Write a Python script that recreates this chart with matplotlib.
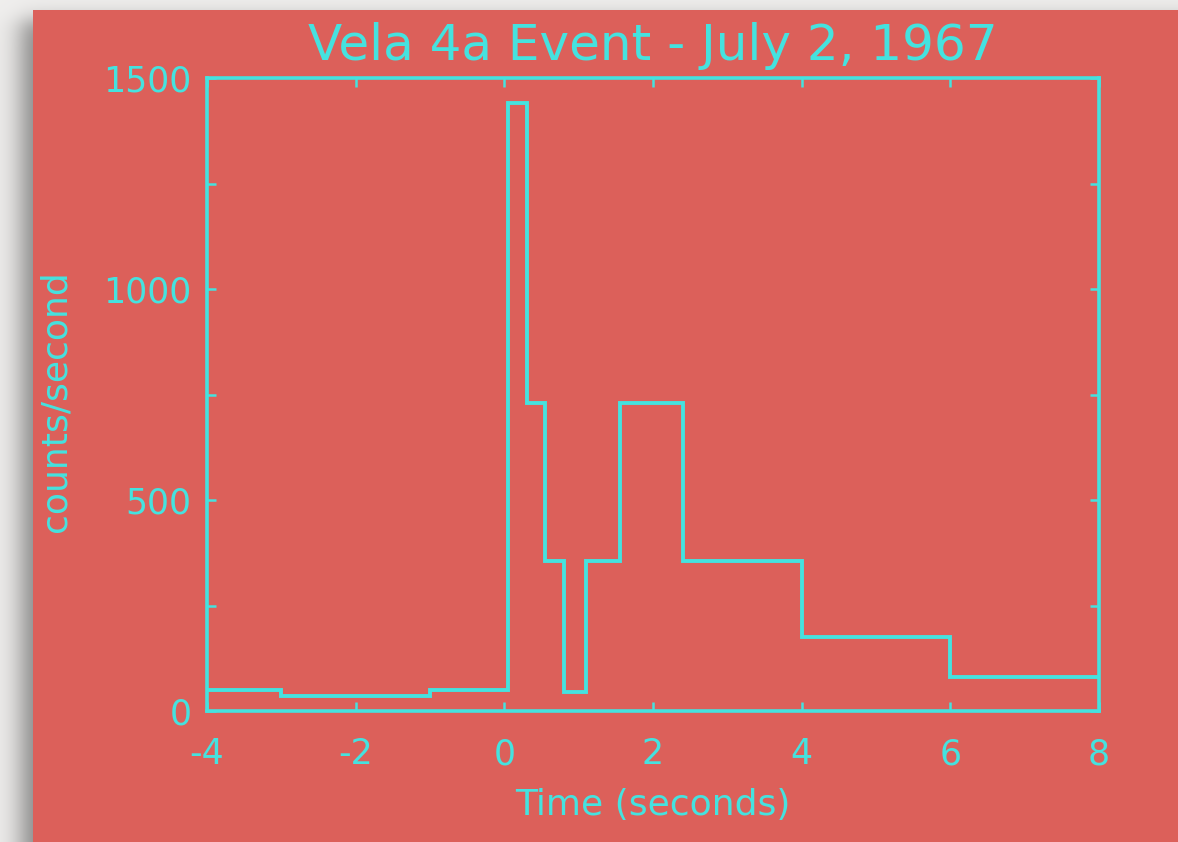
import numpy as np
import matplotlib
matplotlib.use("Agg")
import matplotlib.pyplot as plt
from matplotlib.ticker import MultipleLocator

# Vela 4a gamma-ray burst light curve (July 2, 1967)
bin_edges = [-4.0, -3.0, -1.0, 0.05, 0.3, 0.55, 0.8, 1.1, 1.55, 2.4, 4.0, 6.0, 8.0]
count_rate = [50, 35, 50, 1440, 730, 355, 45, 355, 730, 355, 175, 80]

x_ticks = [-4, -2, 0, 2, 4, 6, 8]
y_ticks = [0, 500, 1000, 1500]

title = "Vela 4a Event - July 2, 1967"
x_label = "Time (seconds)"
y_label = "counts/second"

W, H = 1178, 842
panel_color = np.array([220, 96, 90]) / 255.0
ink = "#45E2DF"

fig = plt.figure(figsize=(W / 100, H / 100), dpi=100)

# backdrop: light grey page with a soft drop shadow behind the red panel
yy, xx = np.mgrid[0:H, 0:W] + 0.5
sx = 1.0 / (1.0 + np.exp(-(xx - 22.0) / 8.0))
sy = 1.0 / (1.0 + np.exp(-(yy - 20.0) / 6.0))
shade = 0.45 * sx * sy
grey = 0.94 * (1.0 - shade)
img = np.dstack([grey, grey * 0.995, grey * 0.99])
panel = (xx >= 33) & (yy >= 10)
img[panel] = panel_color

bg = fig.add_axes([0, 0, 1, 1], zorder=-1)
bg.imshow(img, aspect="auto", interpolation="nearest")
bg.set_axis_off()

ax = fig.add_axes([207 / W, 1 - 711 / H, 892 / W, 633 / H])
ax.set_facecolor("none")

ax.stairs(count_rate, bin_edges, baseline=None, color=ink, linewidth=2.8)

ax.set_xlim(-4, 8)
ax.set_ylim(0, 1500)
ax.set_xticks(x_ticks)
ax.set_xticklabels([str(t) for t in x_ticks])
ax.set_yticks(y_ticks)
ax.set_yticklabels([str(t) for t in y_ticks])
ax.yaxis.set_minor_locator(MultipleLocator(250))

for side in ax.spines.values():
    side.set_color(ink)
    side.set_linewidth(2.6)

ax.tick_params(which="both", direction="in", top=True, right=True,
               color=ink, labelcolor=ink, width=1.8, length=6.5)
ax.tick_params(axis="x", labelsize=25, pad=19)
ax.tick_params(axis="y", labelsize=25, pad=11)

ax.set_title(title, color=ink, fontsize=36, pad=13)
ax.set_xlabel(x_label, color=ink, fontsize=26, labelpad=12)
ax.set_ylabel(y_label, color=ink, fontsize=26)
ax.yaxis.set_label_coords(-0.151, 0.49)

fig.savefig("out.png", dpi=100)
